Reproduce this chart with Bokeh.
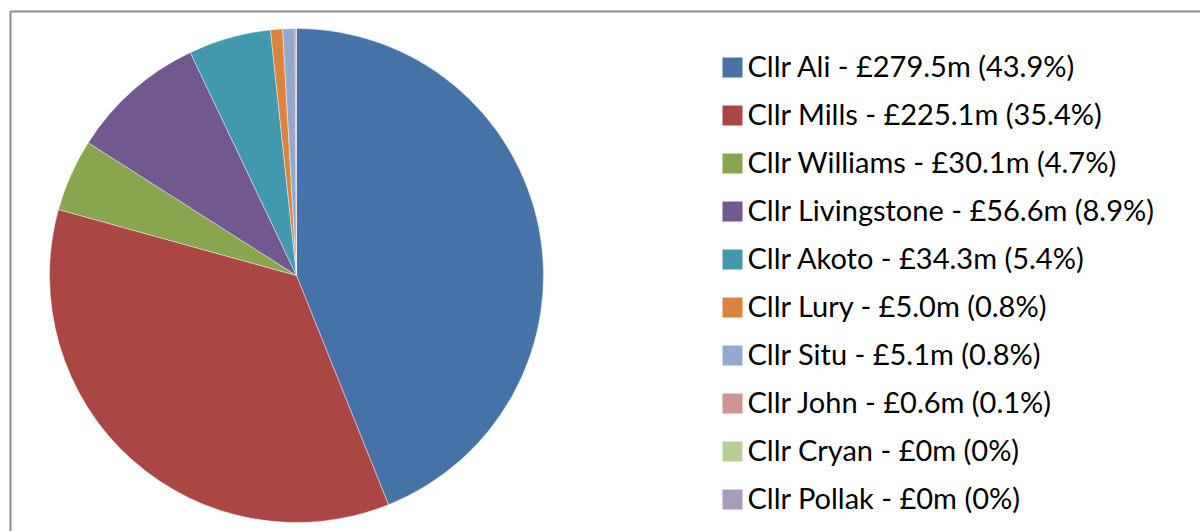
import math
from bokeh.plotting import figure
from bokeh.models import ColumnDataSource, Range1d
from bokeh.core.properties import value
from bokeh.embed import file_html
from bokeh.resources import INLINE

names = ["Cllr Ali", "Cllr Mills", "Cllr Williams", "Cllr Livingstone", "Cllr Akoto",
         "Cllr Lury", "Cllr Situ", "Cllr John", "Cllr Cryan", "Cllr Pollak"]
amounts = [279.5, 225.1, 30.1, 56.6, 34.3, 5.0, 5.1, 0.6, 0.0, 0.0]
amount_labels = ["£279.5m", "£225.1m", "£30.1m", "£56.6m", "£34.3m",
                 "£5.0m", "£5.1m", "£0.6m", "£0m", "£0m"]
pct_labels = ["43.9%", "35.4%", "4.7%", "8.9%", "5.4%", "0.8%", "0.8%", "0.1%", "0%", "0%"]
colors = ["#4572A7", "#AA4643", "#89A54E", "#71588F", "#4198AF",
          "#DB843D", "#93A9CF", "#D19392", "#B9CD96", "#A99BBD"]

W, H = 1200, 531
p = figure(width=W, height=H, output_backend="svg", toolbar_location=None,
           x_range=Range1d(0, W), y_range=Range1d(0, H), min_border=0)
p.axis.visible = False
p.grid.visible = False
p.outline_line_color = None
p.background_fill_color = "white"
p.border_fill_color = "white"

# chart area frame (only top and left edges visible in the window)
p.quad(left=[10], right=[1300], top=[531 - 11], bottom=[-100],
       fill_color=None, line_color="#8c8c8c", line_width=2)

# pie
total = sum(amounts)
starts, ends, wcolors = [], [], []
cum = 0.0
for a, c in zip(amounts, colors):
    if a > 0:
        s = math.pi / 2 - 2 * math.pi * cum / total
        e = math.pi / 2 - 2 * math.pi * (cum + a) / total
        starts.append(s)
        ends.append(e)
        wcolors.append(c)
    cum += a
src = ColumnDataSource(dict(start=starts, end=ends, color=wcolors))
cx, cy, r = 296, 531 - 275, 247
p.wedge(x=cx, y=cy, radius=r, start_angle="start", end_angle="end", direction="clock",
        fill_color="color", line_color="white", line_width=0.6, line_alpha=0.7, source=src)

# legend
row0, step = 531 - 67, 48
lx = [732] * len(names)
ly = [row0 - i * step for i in range(len(names))]
labels = [f"{n} - {a} ({pc})" for n, a, pc in zip(names, amount_labels, pct_labels)]
lsrc = ColumnDataSource(dict(x=lx, y=ly, ty=[v + 2 for v in ly], tx=[747] * len(names),
                             color=colors, text=labels))
p.rect(x="x", y="y", width=20, height=20, fill_color="color", line_color=None, source=lsrc)
p.text(x="tx", y="ty", text="text", source=lsrc, text_font=value("Lato"),
       text_font_size="29px", text_baseline="middle", text_align="left", text_color="black")

open("out.html", "w").write(file_html(p, INLINE))
